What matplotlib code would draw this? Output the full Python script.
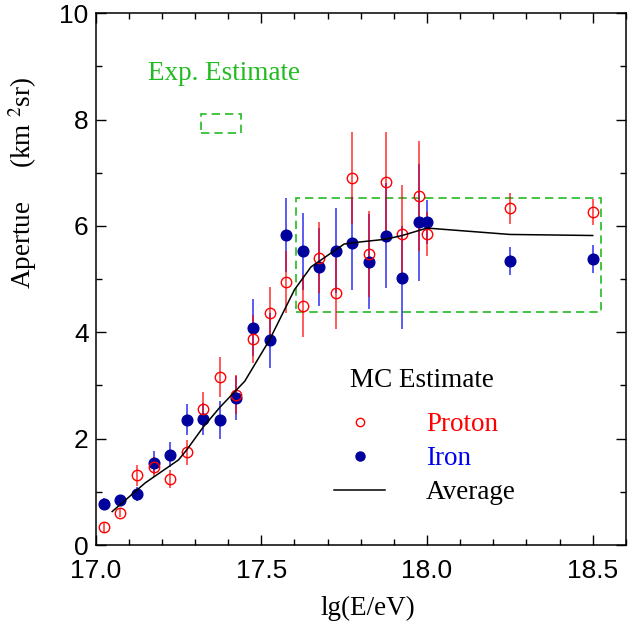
import numpy as np
import matplotlib
matplotlib.use("Agg")
import matplotlib.pyplot as plt
from matplotlib.patches import Rectangle
from matplotlib.lines import Line2D

plt.rcParams['font.family'] = ['Liberation Serif', 'DejaVu Serif']
plt.rcParams['mathtext.fontset'] = 'stix'

# energy bins (lg E/eV)
lgE = [17.025, 17.075, 17.125, 17.175, 17.225, 17.275, 17.325, 17.375, 17.425, 17.475,
       17.525, 17.575, 17.625, 17.675, 17.725, 17.775, 17.825, 17.875, 17.925, 17.975,
       18.0, 18.25, 18.5]

# MC aperture, proton primaries
proton = [0.34, 0.60, 1.31, 1.47, 1.25, 1.74, 2.55, 3.16, 2.83, 3.87,
          4.36, 4.95, 4.50, 5.40, 4.73, 6.90, 5.47, 6.82, 5.84, 6.56,
          5.85, 6.33, 6.26]
proton_err = [0.10, 0.08, 0.20, 0.19, 0.17, 0.24, 0.32, 0.37, 0.36, 0.45,
              0.50, 0.58, 0.58, 0.67, 0.66, 0.86, 0.81, 0.95, 0.93, 1.04,
              0.41, 0.29, 0.25]

# MC aperture, iron primaries
iron = [0.78, 0.85, 0.96, 1.55, 1.70, 2.36, 2.37, 2.35, 2.77, 4.09,
        3.85, 5.83, 5.52, 5.23, 5.53, 5.67, 5.33, 5.82, 5.03, 6.07,
        6.07, 5.34, 5.38]
iron_err = [0.10, 0.10, 0.13, 0.21, 0.24, 0.30, 0.31, 0.35, 0.41, 0.53,
            0.52, 0.69, 0.72, 0.73, 0.80, 0.87, 0.89, 0.99, 0.96, 1.10,
            0.41, 0.27, 0.27]

# averaged aperture curve
avg_x = [17.05, 17.15, 17.25, 17.275, 17.325, 17.375, 17.45, 17.525, 17.60,
         17.65, 17.75, 17.80, 17.875, 17.925, 18.0, 18.25, 18.5]
avg_y = [0.63, 1.17, 1.60, 1.79, 2.22, 2.59, 3.08, 3.86, 4.80,
         5.23, 5.66, 5.70, 5.75, 5.82, 5.96, 5.84, 5.82]

# experimental estimate boxes: (x0, x1, y0, y1)
exp_box = (17.605, 18.525, 4.38, 6.53)
exp_key = (17.317, 17.438, 7.74, 8.10)

red = '#ff0000'
blue = '#0000ee'
navy = '#00009c'
green = '#22bb22'
fs = 19.5

fig = plt.figure(figsize=(6.29, 6.29), dpi=100)
ax = fig.add_axes([0.152, 0.1335, 0.843, 0.8455])

ax.errorbar(lgE, iron, yerr=iron_err, fmt='none', ecolor=blue, elinewidth=1.2,
            alpha=0.75, capsize=0, zorder=2)
ax.errorbar(lgE, proton, yerr=proton_err, fmt='none', ecolor=red, elinewidth=1.2,
            alpha=0.75, capsize=0, zorder=2)
ax.plot(lgE, iron, 'o', color=navy, ms=7.7, mec=navy, zorder=3)
ax.plot(lgE, proton, 'o', mfc='none', mec=red, ms=7.5, mew=1.0, zorder=4)
ax.plot(avg_x, avg_y, '-', color='black', lw=1.1, zorder=5)

for x0, x1, y0, y1 in (exp_box, exp_key):
    ax.add_patch(Rectangle((x0, y0), x1 - x0, y1 - y0, fill=False, ec=green,
                           lw=1.2, ls=(0, (5, 3)), zorder=1))

ax.text(17.387, 8.86, 'Exp. Estimate', color=green, fontsize=fs,
        ha='center', va='center')

ax.set_xlim(17.0, 18.6)
ax.set_ylim(0, 10)
ax.set_xticks([17.0, 17.5, 18.0, 18.5])
ax.set_xticklabels(['17.0', '17.5', '18.0', '18.5'])
ax.set_xticks(np.arange(17.0, 18.61, 0.1), minor=True)
ax.set_yticks([0, 2, 4, 6, 8, 10])
ax.set_yticks([1, 3, 5, 7, 9], minor=True)
ax.tick_params(which='both', direction='in', top=True, right=True, width=1.0)
ax.tick_params(which='major', length=7.5, labelsize=19)
ax.tick_params(which='minor', length=4)
ax.tick_params(axis='x', which='major', pad=10)
ax.tick_params(axis='y', which='major', pad=5)
for lab in ax.get_xticklabels() + ax.get_yticklabels():
    lab.set_family('Liberation Sans')
for sp in ax.spines.values():
    sp.set_linewidth(1.1)

fig.text(0.036, 0.709, 'Apertue     (km $^{2}$sr)', rotation=90, fontsize=fs,
         ha='center', va='center')
fig.text(0.585, 0.033, 'lg(E/eV)', fontsize=fs, ha='center', va='center')

# legend block: heading plus three entries
ax.text(0.6156, 0.309, 'MC Estimate', transform=ax.transAxes, fontsize=fs,
        ha='center', va='center')
handles = [Line2D([], [], ls='none', marker='o', mfc='none', mec=red, ms=6),
           Line2D([], [], ls='none', marker='o', color=navy, ms=6.5),
           Line2D([], [], color='black', lw=1.1)]
leg = ax.legend(handles, ['Proton', 'Iron', 'Average'],
                frameon=False, fontsize=fs,
                handlelength=1.9, handletextpad=1.5, labelspacing=0.33,
                loc='center', bbox_to_anchor=(0.621, 0.1625))
for txt, c in zip(leg.get_texts(), [red, blue, 'black']):
    txt.set_color(c)

fig.savefig('out.png', dpi=100)
